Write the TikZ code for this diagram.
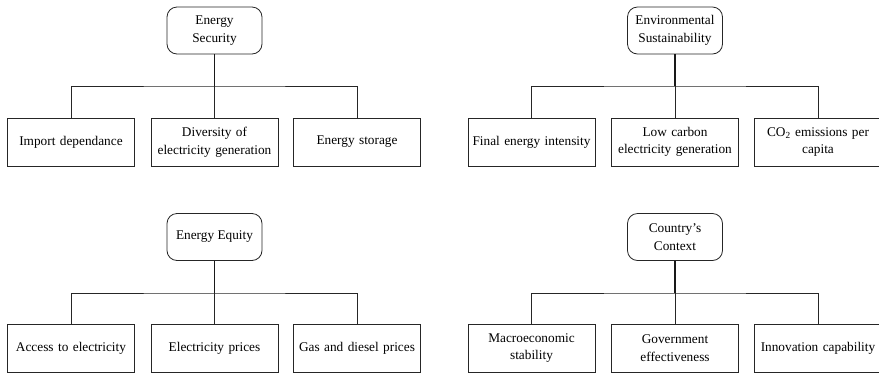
\documentclass[tikz,border=0pt]{standalone}
\usepackage{fontspec}
\setmainfont{Liberation Serif}
\begin{document}
\begin{tikzpicture}[x=1pt,y=-1pt,
  every node/.style={font=\fontsize{13.3}{17.5}\selectfont, align=center, inner sep=0pt},
  rootbox/.style={draw=black!85, line width=0.8pt, rounded corners=10pt, minimum width=95pt, minimum height=47pt},
  leafbox/.style={draw=black!85, line width=0.8pt, minimum width=127pt, minimum height=48pt, text width=124pt},
  link/.style={draw=black!85, line width=0.8pt},
  stem/.style={draw=black!90, line width=1.5pt}]
\useasboundingbox (0,0) rectangle (879,373);
% Group 1: Energy Security
\node[rootbox] (r1) at (214.5,30.5) {Energy\\Security};
\coordinate (b1) at (214.5,86);
\node[leafbox] (a1) at (71,142) {Import dependance};
\node[leafbox] (a2) at (214.5,142) {Diversity of\\electricity generation};
\node[leafbox] (a3) at (357,142) {Energy storage};
% Group 2: Environmental Sustainability
\node[rootbox] (r2) at (675,30.5) {Environmental\\Sustainability};
\coordinate (b2) at (675,86);
\node[leafbox] (e1) at (531.5,142) {Final energy intensity};
\node[leafbox] (e2) at (675,142) {Low carbon\\electricity generation};
\node[leafbox] (e3) at (818,142) {CO\textsubscript{2} emissions per\\capita};
% Group 3: Energy Equity
\node[rootbox] (r3) at (214.5,237) {Energy Equity};
\coordinate (b3) at (214.5,293);
\node[leafbox] (q1) at (71,348) {Access to electricity};
\node[leafbox] (q2) at (214.5,348) {Electricity prices};
\node[leafbox] (q3) at (357,348) {Gas and diesel prices};
% Group 4: Country's Context
\node[rootbox] (r4) at (675,237) {Country’s\\Context};
\coordinate (b4) at (675,293);
\node[leafbox] (c1) at (531.5,348) {Macroeconomic\\stability};
\node[leafbox] (c2) at (675,348) {Government\\effectiveness};
\node[leafbox] (c3) at (818,348) {Innovation capability};
% connectors
\draw[stem] (r1.south) -- (b1);
\draw[link] (a1.north) |- (b1) -| (a3.north);
\draw[link] (b1) -- (a2.north);
\draw[stem] (r2.south) -- (b2);
\draw[link] (e1.north) |- (b2) -| (e3.north);
\draw[link] (b2) -- (e2.north);
\draw[stem] (r3.south) -- (b3);
\draw[link] (q1.north) |- (b3) -| (q3.north);
\draw[link] (b3) -- (q2.north);
\draw[stem] (r4.south) -- (b4);
\draw[link] (c1.north) |- (b4) -| (c3.north);
\draw[link] (b4) -- (c2.north);
\end{tikzpicture}
\end{document}
